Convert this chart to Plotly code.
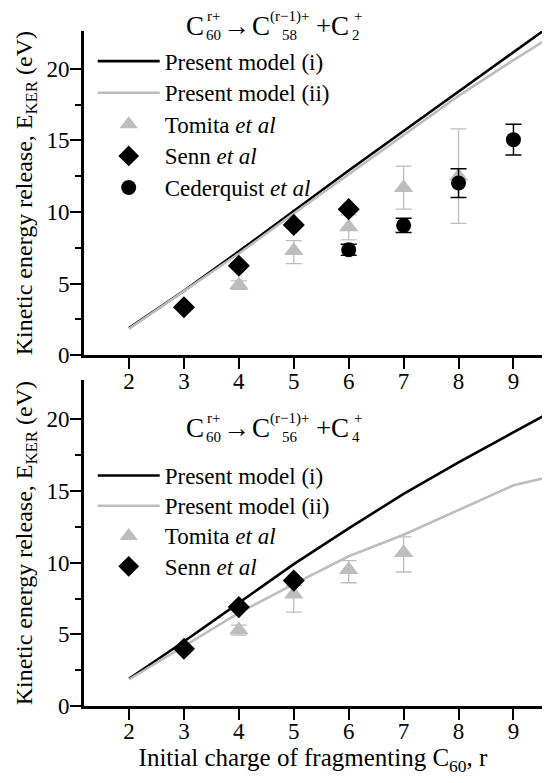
import plotly.graph_objects as go

# ---------------- data ----------------
r_model = [2, 3, 4, 5, 6, 7, 8, 9, 10]
top_model_i = [1.9, 4.5, 7.25, 10.1, 12.9, 15.65, 18.4, 21.1, 23.9]
top_model_ii = [1.85, 4.45, 7.1, 9.9, 12.65, 15.35, 18.1, 20.6, 23.0]

top_tomita_r = [4, 5, 6, 7, 8]
top_tomita = [4.9, 7.3, 8.95, 11.7, 12.5]
top_tomita_plus = [0.3, 0.7, 0.85, 1.5, 3.3]
top_tomita_minus = [0.3, 0.9, 0.9, 1.5, 3.3]

top_senn_r = [3, 4, 5, 6]
top_senn = [3.35, 6.25, 9.1, 10.2]

top_ced_r = [6, 7, 8, 9]
top_ced = [7.37, 9.07, 12.02, 15.05]
top_ced_err = [0.38, 0.5, 1.0, 1.08]

bot_model_i = [1.9, 4.5, 7.2, 9.9, 12.4, 14.8, 17.0, 19.1, 21.2]
bot_model_ii = [1.85, 4.2, 6.5, 8.5, 10.45, 11.95, 13.7, 15.4, 16.3]

bot_tomita_r = [4, 5, 6, 7]
bot_tomita = [5.3, 7.8, 9.5, 10.7]
bot_tomita_plus = [0.35, 0.6, 0.65, 1.1]
bot_tomita_minus = [0.35, 1.25, 0.9, 1.35]

bot_senn_r = [3, 4, 5]
bot_senn = [4.0, 6.9, 8.75]

x_ticks = [2, 3, 4, 5, 6, 7, 8, 9]
y_ticks = [0, 5, 10, 15, 20]
y_minor = [2.5, 7.5, 12.5, 17.5]

# ---------------- geometry (reference-screen pixels) ----------------
FONT = "'Liberation Serif', 'Times New Roman', serif"
GRAY = "#BDBDBD"
BLACK = "#000000"
OFF = 8                     # page body margin of the browser
W, H = 550 - OFF, 783 - OFF
X0, X1 = 84.3, 541.7        # plot area left / right (screen px)
Y0, Y1 = 30.7, 705.7        # plot area top / bottom (screen px)
L = X0 - OFF
R = W - (X1 - OFF)
T = Y0 - OFF
B = H - (Y1 - OFF)
PW = X1 - X0
PH = Y1 - Y0


def px(xs):
    return (xs - X0) / PW


def py(ys):
    return (Y1 - ys) / PH


fig = go.Figure()


def lg(txt):
    return "<span style='font-size:23px'>" + txt + "</span>"


def add_panel(xa, ya, leg, mi, mii, tom_r, tom, tp, tm, sr, sv, ced=None):
    fig.add_trace(go.Scatter(x=r_model, y=mi, mode="lines", name=lg("Present model (i)"),
                             line=dict(color=BLACK, width=2.6), xaxis=xa, yaxis=ya,
                             legend=leg))
    fig.add_trace(go.Scatter(x=r_model, y=mii, mode="lines", name=lg("Present model (ii)"),
                             line=dict(color=GRAY, width=2.6), xaxis=xa, yaxis=ya,
                             legend=leg))
    fig.add_trace(go.Scatter(x=tom_r, y=tom, mode="markers", name=lg("Tomita <i>et al</i>"),
                             marker=dict(symbol="triangle-up", size=17, color=GRAY),
                             error_y=dict(type="data", array=tp, arrayminus=tm, color=GRAY,
                                          thickness=1.3, width=8),
                             xaxis=xa, yaxis=ya, legend=leg))
    fig.add_trace(go.Scatter(x=sr, y=sv, mode="markers", name=lg("Senn <i>et al</i>"),
                             marker=dict(symbol="diamond", size=17, color=BLACK),
                             xaxis=xa, yaxis=ya, legend=leg))
    if ced is not None:
        cr, cv, ce = ced
        fig.add_trace(go.Scatter(x=cr, y=cv, mode="markers", name=lg("Cederquist <i>et al</i>"),
                                 marker=dict(symbol="circle", size=15, color=BLACK),
                                 error_y=dict(type="data", array=ce, color=BLACK,
                                              thickness=1.5, width=8),
                                 xaxis=xa, yaxis=ya, legend=leg))


add_panel("x", "y", "legend", top_model_i, top_model_ii, top_tomita_r, top_tomita,
          top_tomita_plus, top_tomita_minus, top_senn_r, top_senn,
          (top_ced_r, top_ced, top_ced_err))
add_panel("x2", "y2", "legend2", bot_model_i, bot_model_ii, bot_tomita_r, bot_tomita,
          bot_tomita_plus, bot_tomita_minus, bot_senn_r, bot_senn)

axis_common = dict(showline=True, linewidth=2.6, linecolor=BLACK, showgrid=False,
                   zeroline=False, ticks="outside", tickwidth=2.2, tickcolor=BLACK,
                   tickfont=dict(family=FONT, size=23, color=BLACK), mirror=False)

xcommon = dict(axis_common, range=[1.18, 9.52], tickvals=x_ticks, ticklen=11,
               ticklabelstandoff=-8)
ycommon = dict(axis_common, tickvals=y_ticks, ticklen=11, ticklabelstandoff=-4,
               minor=dict(tickvals=y_minor, ticks="outside", ticklen=6,
                          tickwidth=2.2, tickcolor=BLACK))
ytitle = dict(text="Kinetic energy release, E<sub>KER</sub> (eV)",
              font=dict(family=FONT, size=24, color=BLACK), standoff=8)

top_lo = py(355)
bot_hi = py(380)
y_top_max = (355 - Y0) / 14.33
y_bot_max = (Y1 - 380) / 14.33

fig.update_layout(
    width=W, height=H,
    margin=dict(l=L, r=R, t=T, b=B, autoexpand=False),
    paper_bgcolor="white", plot_bgcolor="white",
    font=dict(family=FONT, size=23, color=BLACK),
    xaxis=dict(xcommon, anchor="y", domain=[0, 1]),
    yaxis=dict(ycommon, anchor="x", domain=[top_lo, 1], range=[0, y_top_max], title=ytitle),
    xaxis2=dict(xcommon, anchor="y2", domain=[0, 1],
                title=dict(text="Initial charge of fragmenting C<sub>60</sub>, r",
                           font=dict(family=FONT, size=25, color=BLACK), standoff=0)),
    yaxis2=dict(ycommon, anchor="x2", domain=[0, bot_hi], range=[0, y_bot_max], title=ytitle),
    legend=dict(x=px(93), y=py(40), xanchor="left", yanchor="top",
                bgcolor="rgba(0,0,0,0)", font=dict(family=FONT, size=22),
                itemwidth=62, tracegroupgap=0),
    legend2=dict(x=px(93), y=py(455), xanchor="left", yanchor="top",
                 bgcolor="rgba(0,0,0,0)", font=dict(family=FONT, size=21),
                 itemwidth=62, tracegroupgap=0),
    showlegend=True,
)

# ---------------- reaction formulas as stacked text ----------------
BASE = 27
SCRIPT = 15


def formula(x0, yc, sub_a, sub_b, sub_c, sup_b):
    pieces = [
        ("C", 0, 0, BASE), ("r+", 18.5, -10, SCRIPT), (sub_a, 19, 8.5, SCRIPT),
        ("\u2192", 41.7, 0, BASE),
        ("C", 66, 0, BASE), (sup_b, 95, -10, SCRIPT), (sub_b, 95, 8.5, SCRIPT),
        ("+", 128, 0, BASE),
        ("C", 145, 0, BASE), ("+", 162.5, -10, SCRIPT), (sub_c, 161, 8.5, SCRIPT),
    ]
    for txt, dx, dy, sz in pieces:
        fig.add_annotation(text=txt, x=px(x0 + dx), y=py(yc + dy), xref="paper", yref="paper",
                           xanchor="center", yanchor="middle", showarrow=False, borderpad=0,
                           font=dict(family=FONT, size=sz, color=BLACK))


formula(195, 26, "60", "58", "2", "(r\u22121)+")
formula(195, 428, "60", "56", "4", "(r\u22121)+")

fig.write_html("out.html")
